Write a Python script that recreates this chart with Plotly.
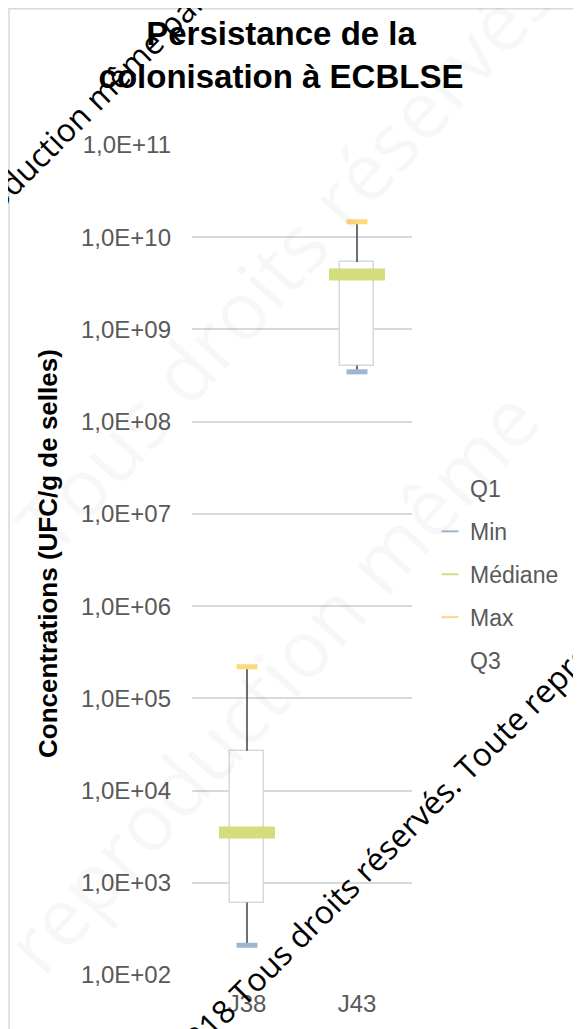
import plotly.graph_objects as go

categories = ["J38", "J43"]
q1 = [6.1e2, 4.06e8]
mins = [2.1e2, 3.47e8]
medians = [3.5e3, 3.95e9]
maxs = [2.2e5, 1.47e10]
q3 = [2.7e4, 5.4e9]
tick_vals = [1e2, 1e3, 1e4, 1e5, 1e6, 1e7, 1e8, 1e9, 1e10, 1e11]
tick_text = ["1,0E+02", "1,0E+03", "1,0E+04", "1,0E+05", "1,0E+06",
             "1,0E+07", "1,0E+08", "1,0E+09", "1,0E+10", "1,0E+11"]

OFF = 8  # page body margin
W, H = 581 - OFF, 1029 - OFF
# plot area in page pixels: x 192..412, y 145..975
ML, MR, MT, MB = 192 - OFF, W - (412 - OFF), 145 - OFF, H - (975 - OFF)
pw = W - ML - MR
ph = H - MT - MB


def px_x(x):  # page px -> paper
    return (x - OFF - ML) / pw


def px_y(y):
    return (H - MB - (y - OFF)) / ph


fig = go.Figure()

# whiskers (high-low lines), hidden behind the box
for c, lo, a, b, hi in zip(categories, mins, q1, q3, maxs):
    fig.add_trace(go.Scatter(x=[c, c, None, c, c], y=[lo, a, None, b, hi], mode="lines",
                             line=dict(color="#404040", width=1.5),
                             showlegend=False, hoverinfo="skip"))

# boxes (up-down bars)
fig.add_trace(go.Bar(x=categories, y=[b - a for a, b in zip(q1, q3)], base=q1,
                     width=0.31, marker=dict(color="white", line=dict(color="#D9D9D9", width=1.5)),
                     showlegend=False))

fig.add_trace(go.Scatter(x=categories, y=q1, mode="lines", name="Q1",
                         line=dict(color="rgba(0,0,0,0)", width=0), legendgroup="a"))
fig.add_trace(go.Scatter(x=categories, y=mins, mode="markers", name="Min", legendgroup="b",
                         marker=dict(symbol="line-ew", size=15, line=dict(color="#9DB6D0", width=5))))
fig.add_trace(go.Scatter(x=categories, y=medians, mode="markers", name="Médiane", legendgroup="c",
                         marker=dict(symbol="line-ew", size=40, line=dict(color="#D4DC7C", width=12))))
fig.add_trace(go.Scatter(x=categories, y=maxs, mode="markers", name="Max", legendgroup="d",
                         marker=dict(symbol="line-ew", size=15, line=dict(color="#FDD97A", width=5))))
fig.add_trace(go.Scatter(x=categories, y=q3, mode="lines", name="Q3", legendgroup="e",
                         line=dict(color="rgba(0,0,0,0)", width=0)))

# chart area border
fig.add_shape(type="rect", xref="paper", yref="paper",
              x0=px_x(9), x1=px_x(800), y0=px_y(1200), y1=px_y(8.8),
              line=dict(color="#D9D9D9", width=1.5), fillcolor="rgba(0,0,0,0)", layer="below")

# faint watermark
faint = [
    ("Tous droits réservés.", 290, 250, 80),
    ("reproduction même", 270, 680, 80),
]
for t, x, y, s in faint:
    fig.add_annotation(text=t, x=px_x(x), y=px_y(y), xref="paper", yref="paper",
                       xanchor="center", yanchor="middle",
                       showarrow=False, textangle=-48,
                       font=dict(family="Open Sans", size=s, color="rgba(0,0,0,0.03)"))

# black watermark
fig.add_annotation(text="2018 Tous droits réservés. Toute reproduction", x=px_x(421), y=px_y(812),
                   xref="paper", yref="paper", xanchor="center", yanchor="middle",
                   showarrow=False, textangle=-45,
                   font=dict(family="Open Sans", size=32, color="black"))
fig.add_annotation(text="Toute reproduction même partielle", x=px_x(64), y=px_y(129),
                   xref="paper", yref="paper", xanchor="center", yanchor="middle",
                   showarrow=False, textangle=-45,
                   font=dict(family="Open Sans", size=32, color="black"))

# y axis title
fig.add_annotation(text="<b>Concentrations (UFC/g de selles)</b>", x=px_x(48), y=px_y(554),
                   xref="paper", yref="paper", xanchor="center", yanchor="middle",
                   showarrow=False, textangle=-90,
                   font=dict(family="Liberation Sans", size=26, color="black"))

fig.update_layout(
    width=W, height=H,
    margin=dict(l=ML, r=MR, t=MT, b=MB),
    paper_bgcolor="white", plot_bgcolor="white",
    title=dict(text="<b>Persistance de la<br>colonisation à ECBLSE</b>",
               x=(281 - OFF) / W, xanchor="center", y=1 - 37 / H, yanchor="middle",
               font=dict(family="Liberation Sans", size=33, color="black")),
    font=dict(family="Liberation Sans", color="#595959"),
    showlegend=True,
    legend=dict(x=px_x(430), y=px_y(467), xanchor="left", yanchor="top",
                font=dict(size=23, color="#595959"), traceorder="grouped",
                tracegroupgap=10, itemsizing="constant", bgcolor="rgba(0,0,0,0)"),
    xaxis=dict(type="category", range=[-0.5, 1.5], showgrid=False, showline=False,
               tickfont=dict(size=24, color="#595959"), ticks="", ticklabelstandoff=12),
    yaxis=dict(type="log", range=[2, 11], tickvals=tick_vals, ticktext=tick_text,
               showgrid=True, gridcolor="#D9D9D9", gridwidth=1.5, zeroline=False,
               tickfont=dict(size=24, color="#595959"), ticklabelstandoff=20),
    bargap=0,
)

fig.write_html("out.html")
